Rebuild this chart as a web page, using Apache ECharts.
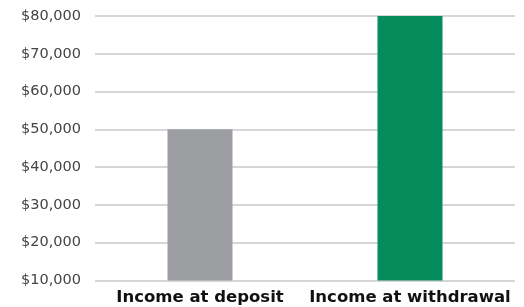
<!DOCTYPE html>
<html>
<head>
<meta charset="utf-8">
<script src="https://cdn.jsdelivr.net/npm/echarts@6/dist/echarts.min.js"></script>
<style>
  html, body { margin: 0; padding: 0; background: #fff; }
  #main { width: 524px; height: 307px; }
</style>
</head>
<body>
<div id="main"></div>
<script>
// 类别与数值
var categories = ['Income at deposit', 'Income at withdrawal'];
var incomeValues = [50000, 80000];
var barColors = ['#9d9ea2', '#048c5c'];

// y 轴范围
var yMin = 10000;
var yMax = 80000;
var yStep = 10000;

var myChart = echarts.init(document.getElementById('main'));

var option = {
    animation: false,
    grid: {
        left: 95,
        right: 9,
        top: 16,
        bottom: 26.5
    },
    xAxis: {
        type: 'category',
        data: categories,
        axisLine: { show: false },
        axisTick: { show: false },
        axisLabel: {
            interval: 0,
            margin: 9,
            color: '#111',
            fontFamily: 'DejaVu Sans',
            fontWeight: 'bold',
            fontSize: 16.5
        }
    },
    yAxis: {
        type: 'value',
        min: yMin,
        max: yMax,
        interval: yStep,
        axisLine: { show: false },
        axisTick: { show: false },
        splitLine: { lineStyle: { color: '#c8c8c8', width: 1.5 } },
        axisLabel: {
            margin: 14,
            color: '#444',
            fontFamily: 'DejaVu Sans',
            fontSize: 14.5,
            formatter: function (v) {
                return '$' + v.toLocaleString('en-US');
            }
        }
    },
    series: [{
        type: 'bar',
        barWidth: 65,
        data: incomeValues.map(function (v, i) {
            return { value: v, itemStyle: { color: barColors[i] } };
        })
    }]
};

myChart.setOption(option);
</script>
</body>
</html>
